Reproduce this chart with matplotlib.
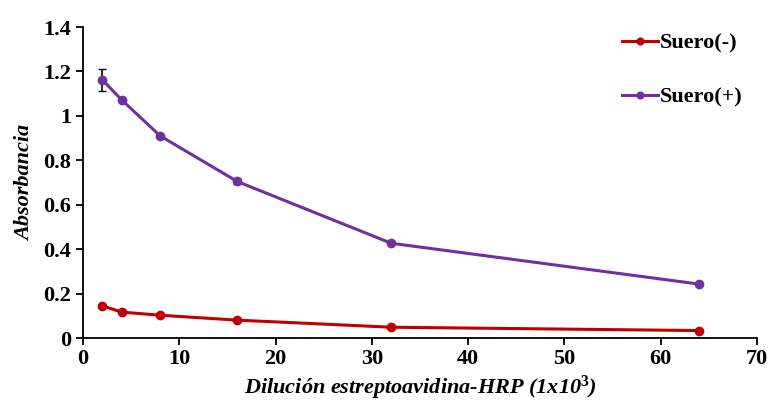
import numpy as np
import matplotlib.pyplot as plt

dilucion = [2, 4, 8, 16, 32, 64]
suero_neg = [0.145, 0.117, 0.103, 0.081, 0.049, 0.034]
suero_pos = [1.162, 1.072, 0.910, 0.705, 0.427, 0.243]
err_pos = [0.048, 0.0, 0.0, 0.012, 0.0, 0.0]

plt.rcParams['font.family'] = ['Liberation Serif', 'DejaVu Serif']
plt.rcParams['font.weight'] = 'bold'
plt.rcParams['mathtext.fontset'] = 'custom'
plt.rcParams['mathtext.rm'] = 'Liberation Serif:bold'
plt.rcParams['mathtext.it'] = 'Liberation Serif:italic:bold'
plt.rcParams['mathtext.bf'] = 'Liberation Serif:bold'

fig = plt.figure(figsize=(7.7, 4.03), dpi=100)
ax = fig.add_axes([0.108, 0.161, 0.875, 0.772])

ax.errorbar(dilucion, suero_pos, yerr=err_pos, fmt='none', ecolor='black',
            elinewidth=1.2, capsize=3, zorder=1)
ax.plot(dilucion, suero_neg, color='#C00000', lw=2.2, marker='o', ms=6,
        label='Suero(-)', zorder=2)
ax.plot(dilucion, suero_pos, color='#7030A0', lw=2.2, marker='o', ms=6,
        label='Suero(+)', zorder=2)

ax.set_xlim(0, 70)
ax.set_ylim(0, 1.4)
ax.set_xticks(np.arange(0, 71, 10))
ax.set_yticks(np.arange(0, 1.41, 0.2))
ax.set_yticklabels(['0', '0.2', '0.4', '0.6', '0.8', '1', '1.2', '1.4'])
ax.tick_params(labelsize=16, width=1.3, length=5, direction='out')
ax.tick_params(axis='x', pad=3)
for s in ['top', 'right']:
    ax.spines[s].set_visible(False)
for s in ['left', 'bottom']:
    ax.spines[s].set_linewidth(1.3)

ax.set_xlabel(r'Dilución estreptoavidina-HRP (1x10$^{\mathit{3}}$)', fontsize=16,
              style='italic', fontweight='bold', labelpad=3)
ax.set_ylabel('Absorbancia', fontsize=16, style='italic', fontweight='bold',
              labelpad=6)

leg = ax.legend(loc='upper left', bbox_to_anchor=(0.77, 1.045), frameon=False,
                fontsize=16, handlelength=1.6, handletextpad=0.1,
                labelspacing=1.5, markerscale=0.8)

fig.savefig('out.png', dpi=100)
